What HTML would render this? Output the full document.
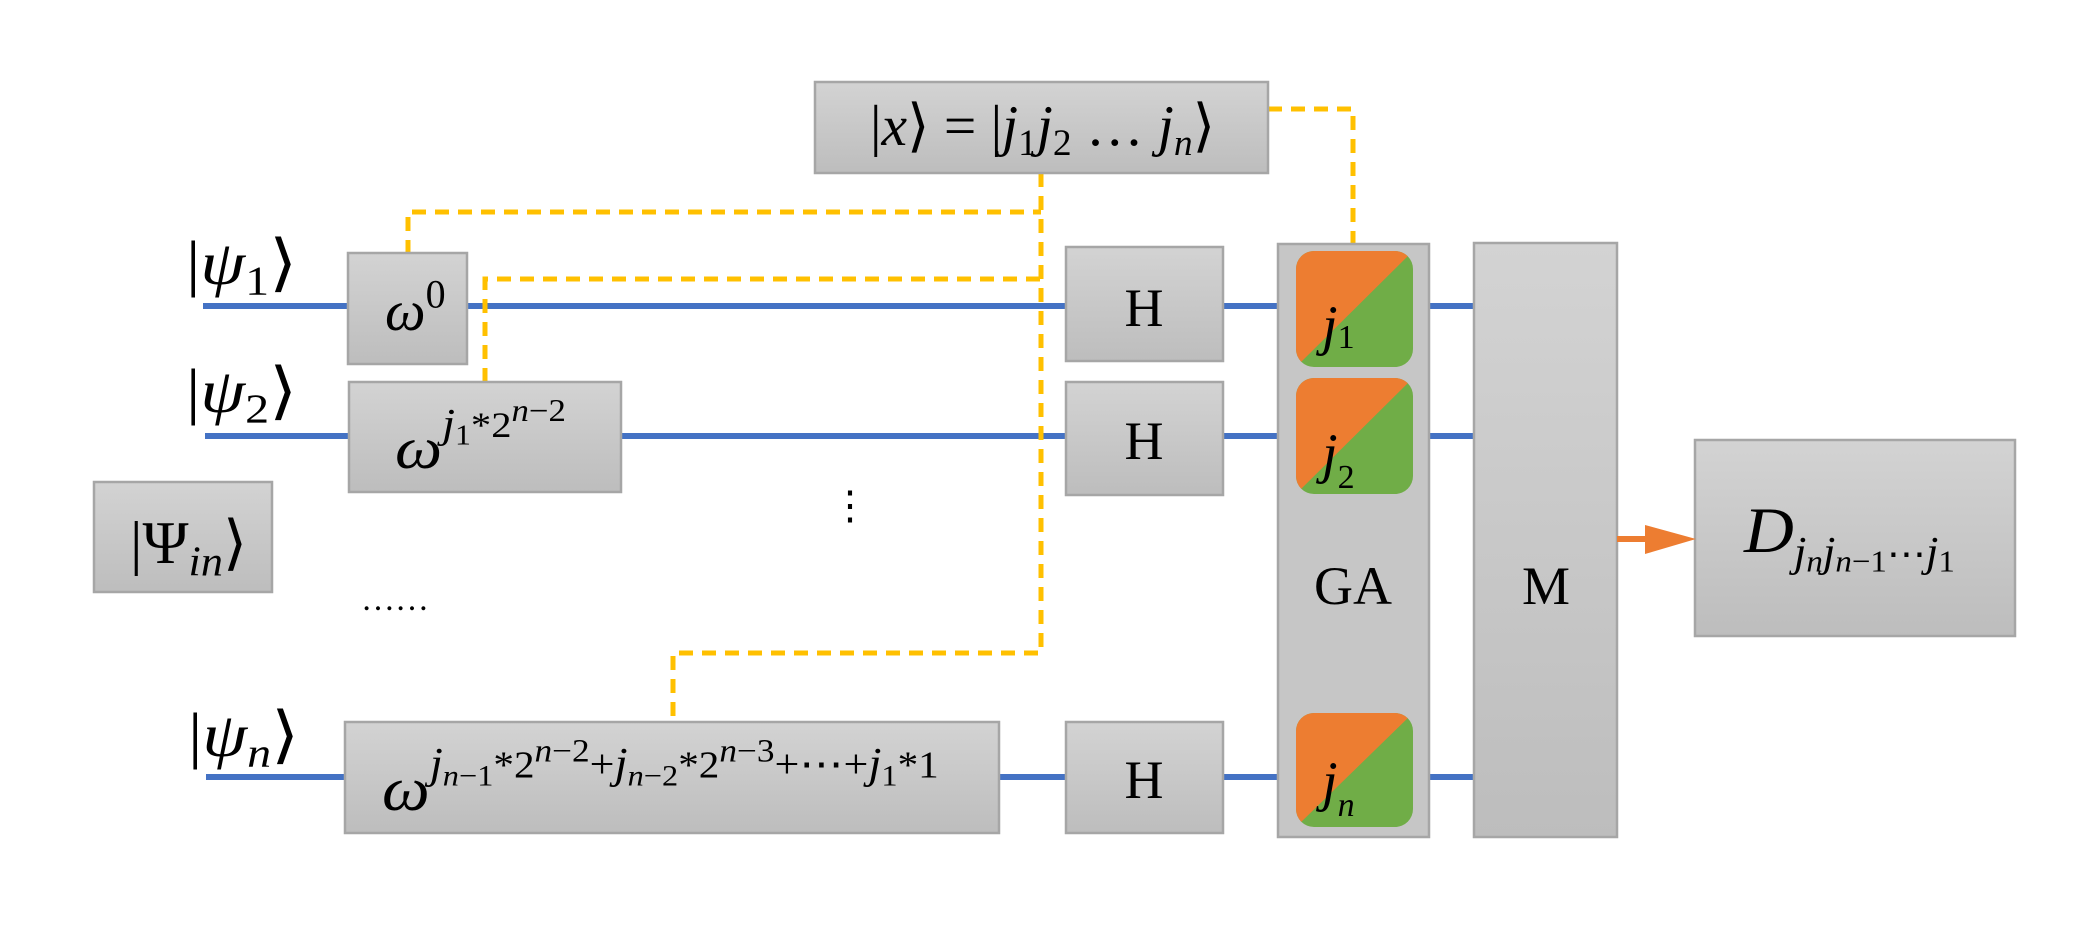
<!DOCTYPE html>
<html><head><meta charset="utf-8"><style>
html,body{margin:0;padding:0;background:#fff;}
svg{display:block}
text{font-family:"Liberation Serif","DejaVu Serif",serif;fill:#000}
.m{font-style:italic}
</style></head><body>
<svg width="2082" height="937" viewBox="0 0 2082 937" xmlns="http://www.w3.org/2000/svg">
<defs>
<linearGradient id="g" x1="0" y1="0" x2="0" y2="1"><stop offset="0" stop-color="#d3d3d3"/><stop offset="1" stop-color="#bdbdbd"/></linearGradient>
<clipPath id="c1"><rect x="1296" y="251" width="117" height="116" rx="18"/></clipPath>
<clipPath id="c2"><rect x="1296" y="378" width="117" height="116" rx="18"/></clipPath>
<clipPath id="c3"><rect x="1296" y="713" width="117" height="114" rx="18"/></clipPath>
</defs>
<g stroke="#4472c4" stroke-width="6">
<line x1="203" y1="306" x2="1280" y2="306"/>
<line x1="205" y1="436" x2="1280" y2="436"/>
<line x1="206" y1="777" x2="1280" y2="777"/>
<line x1="1428" y1="306" x2="1476" y2="306"/>
<line x1="1428" y1="436" x2="1476" y2="436"/>
<line x1="1428" y1="777" x2="1476" y2="777"/>
</g>
<g stroke="#ffc000" stroke-width="5" fill="none" stroke-dasharray="14,9">
<polyline points="1041,173 1041,653 673,653 673,722"/>
<polyline points="408,254 408,212 1041,212"/>
<polyline points="485,382 485,279 1041,279"/>
<polyline points="1268,109 1353,109 1353,244"/>
</g>
<g fill="url(#g)" stroke="#a6a6a6" stroke-width="2.5">
<rect x="815" y="82" width="453" height="91"/>
<rect x="348" y="253" width="119" height="111"/>
<rect x="349" y="382" width="272" height="110"/>
<rect x="94" y="482" width="178" height="110"/>
<rect x="345" y="722" width="654" height="111"/>
<rect x="1066" y="247" width="157" height="114"/>
<rect x="1066" y="382" width="157" height="113"/>
<rect x="1066" y="722" width="157" height="111"/>
<rect x="1278" y="244" width="151" height="593" fill="#c6c6c6"/>
<rect x="1474" y="243" width="143" height="594"/>
<rect x="1695" y="440" width="320" height="196"/>
</g>
<g clip-path="url(#c1)"><rect x="1296" y="251" width="117" height="116" fill="#70ad47"/><polygon points="1296,367 1413,251 1296,251" fill="#ed7d31"/></g>
<g clip-path="url(#c2)"><rect x="1296" y="378" width="117" height="116" fill="#70ad47"/><polygon points="1296,494 1413,378 1296,378" fill="#ed7d31"/></g>
<g clip-path="url(#c3)"><rect x="1296" y="713" width="117" height="114" fill="#70ad47"/><polygon points="1296,827 1413,713 1296,713" fill="#ed7d31"/></g>
<line x1="1617" y1="539" x2="1650" y2="539" stroke="#ed7d31" stroke-width="6"/>
<polygon points="1645,525 1696,539 1645,554" fill="#ed7d31"/>
<g transform="translate(186,284) scale(1.5,1.3)"><text x="0" y="0" font-size="48"><tspan>|</tspan><tspan class="m">ψ</tspan><tspan font-size="32" dy="8">1</tspan><tspan dy="-8">⟩</tspan></text></g>
<g transform="translate(186,412) scale(1.5,1.3)"><text x="0" y="0" font-size="48"><tspan>|</tspan><tspan class="m">ψ</tspan><tspan font-size="32" dy="8">2</tspan><tspan dy="-8">⟩</tspan></text></g>
<g transform="translate(188,756) scale(1.5,1.3)"><text x="0" y="0" font-size="48"><tspan>|</tspan><tspan class="m">ψ</tspan><tspan class="m" font-size="32" dy="8">n</tspan><tspan dy="-8">⟩</tspan></text></g>
<g transform="translate(870,145) scale(1.25,1.25)"><text x="0" y="0" font-size="46"><tspan>|</tspan><tspan class="m">x</tspan><tspan>⟩ = |</tspan><tspan class="m">j</tspan><tspan font-size="30" dy="8">1</tspan><tspan class="m" dy="-8">j</tspan><tspan font-size="30" dy="8">2</tspan><tspan dy="-8"> … </tspan><tspan class="m">j</tspan><tspan class="m" font-size="30" dy="8">n</tspan><tspan dy="-8">⟩</tspan></text></g>
<g transform="translate(385,330) scale(1.25,1.25)"><text x="0" y="0" font-size="46"><tspan class="m">ω</tspan><tspan font-size="32" dy="-18">0</tspan></text></g>
<g transform="translate(395,468) scale(1.45,1.3)"><text x="0" y="0" font-size="46"><tspan class="m">ω</tspan><tspan class="m" font-size="32" dy="-24">j</tspan><tspan font-size="22" dy="6">1</tspan><tspan font-size="28" dy="-6">*2</tspan><tspan class="m" font-size="24" dy="-12">n</tspan><tspan font-size="24">−2</tspan></text></g>
<g transform="translate(130,563) scale(1.3,1.25)"><text x="0" y="0" font-size="48"><tspan>|Ψ</tspan><tspan class="m" font-size="34" dy="10">in</tspan><tspan dy="-10">⟩</tspan></text></g>
<g transform="translate(382,810) scale(1.47,1.35)"><text x="0" y="0" font-size="46"><tspan class="m">ω</tspan><tspan class="m" font-size="32" dy="-24">j</tspan><tspan class="m" font-size="22" dy="6">n</tspan><tspan font-size="22">−1</tspan><tspan font-size="28" dy="-6">*2</tspan><tspan class="m" font-size="24" dy="-12">n</tspan><tspan font-size="24">−2</tspan><tspan font-size="30" dy="12">+</tspan><tspan class="m" font-size="32">j</tspan><tspan class="m" font-size="22" dy="6">n</tspan><tspan font-size="22">−2</tspan><tspan font-size="28" dy="-6">*2</tspan><tspan class="m" font-size="24" dy="-12">n</tspan><tspan font-size="24">−3</tspan><tspan font-size="30" dy="12">+⋯+</tspan><tspan class="m" font-size="32">j</tspan><tspan font-size="22" dy="6">1</tspan><tspan font-size="28" dy="-6">*1</tspan></text></g>
<text x="361" y="610" font-size="34">……</text>
<text x="850" y="519" font-size="40" text-anchor="middle">⋮</text>
<text x="1144" y="326" font-size="54" text-anchor="middle">H</text>
<text x="1144" y="459" font-size="54" text-anchor="middle">H</text>
<text x="1144" y="798" font-size="54" text-anchor="middle">H</text>
<text x="1353" y="604" font-size="54" text-anchor="middle">GA</text>
<text x="1546" y="604" font-size="54" text-anchor="middle">M</text>
<text x="1322" y="344" font-size="56"><tspan class="m">j</tspan><tspan font-size="34" dy="4">1</tspan></text>
<text x="1322" y="472" font-size="56"><tspan class="m">j</tspan><tspan font-size="34" dy="16">2</tspan></text>
<text x="1322" y="800" font-size="56"><tspan class="m">j</tspan><tspan class="m" font-size="34" dy="16">n</tspan></text>
<g transform="translate(1744,552) scale(1.5,1.4)"><text x="0" y="0" font-size="46"><tspan class="m">D</tspan><tspan class="m" font-size="30" dy="10">j</tspan><tspan class="m" font-size="22" dy="4">n</tspan><tspan class="m" font-size="30" dy="-4">j</tspan><tspan class="m" font-size="22" dy="4">n</tspan><tspan font-size="22">−1</tspan><tspan font-size="26" dy="-4">⋯</tspan><tspan class="m" font-size="30">j</tspan><tspan font-size="22" dy="4">1</tspan></text></g>
</svg>
</body></html>
